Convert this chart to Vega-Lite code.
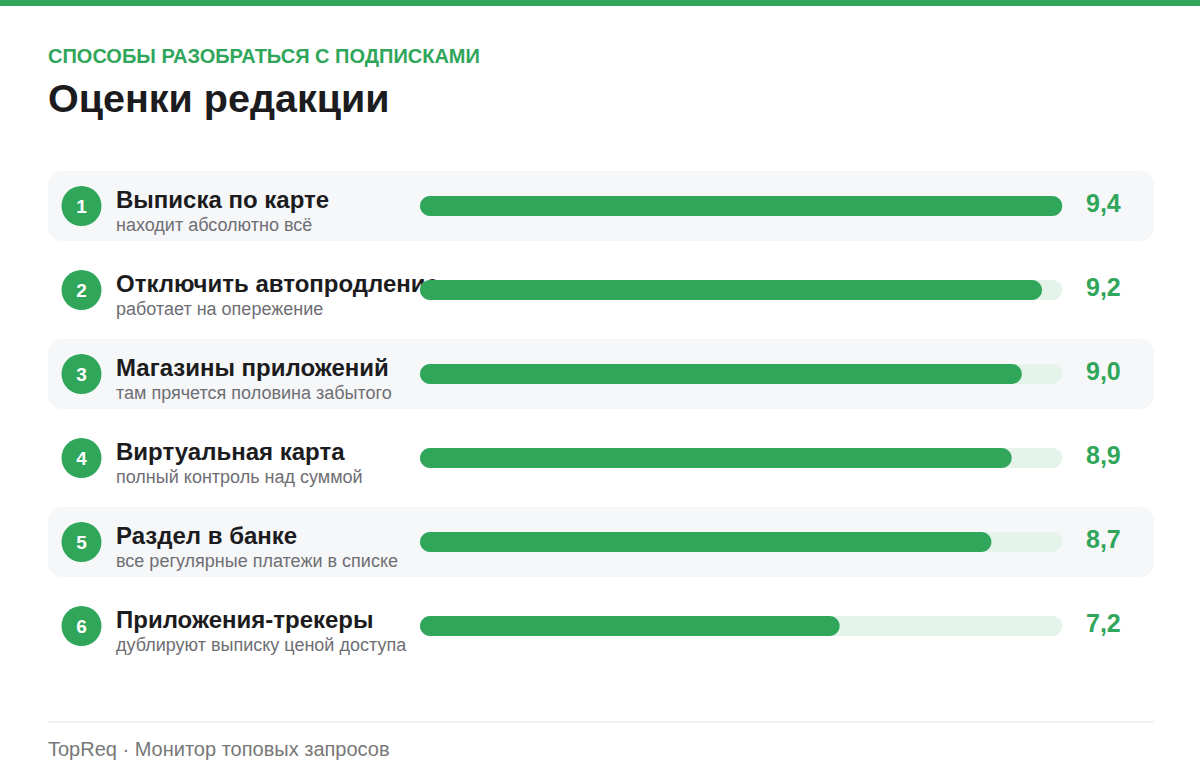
{
  "$schema": "https://vega.github.io/schema/vega-lite/v6.json",
  "width": 1200,
  "height": 784,
  "autosize": {"type": "none"},
  "padding": 0,
  "background": "#ffffff",
  "data": {
    "values": [
      {"rank": 1, "name": "Выписка по карте", "note": "находит абсолютно всё", "score": 9.4, "scoreText": "9,4", "shaded": true},
      {"rank": 2, "name": "Отключить автопродление", "note": "работает на опережение", "score": 9.2, "scoreText": "9,2", "shaded": false},
      {"rank": 3, "name": "Магазины приложений", "note": "там прячется половина забытого", "score": 9.0, "scoreText": "9,0", "shaded": true},
      {"rank": 4, "name": "Виртуальная карта", "note": "полный контроль над суммой", "score": 8.9, "scoreText": "8,9", "shaded": false},
      {"rank": 5, "name": "Раздел в банке", "note": "все регулярные платежи в списке", "score": 8.7, "scoreText": "8,7", "shaded": true},
      {"rank": 6, "name": "Приложения-трекеры", "note": "дублируют выписку ценой доступа", "score": 7.2, "scoreText": "7,2", "shaded": false}
    ]
  },
  "layer": [
    {
      "data": {"values": [{"part": "top stripe"}]},
      "mark": {"type": "rule", "color": "#2fa65a", "strokeWidth": 6},
      "encoding": {
        "x": {"datum": -1.09684, "type": "quantitative", "axis": null},
        "x2": {"datum": 10.76087},
        "y": {"datum": -1.41667, "type": "quantitative", "axis": null}
      }
    },
    {
      "data": {"values": [{"kicker": "СПОСОБЫ РАЗОБРАТЬСЯ С ПОДПИСКАМИ"}]},
      "mark": {"type": "text", "align": "left", "baseline": "alphabetic", "font": "Liberation Sans", "fontSize": 20, "fontWeight": "bold", "color": "#2fa65a"},
      "encoding": {
        "x": {"datum": -0.62253, "type": "quantitative", "axis": null},
        "y": {"datum": -0.69881, "type": "quantitative", "axis": null},
        "text": {"field": "kicker", "type": "nominal"}
      }
    },
    {
      "data": {"values": [{"headline": "Оценки редакции"}]},
      "mark": {"type": "text", "align": "left", "baseline": "alphabetic", "font": "Liberation Sans", "fontSize": 39.5, "fontWeight": "bold", "color": "#1c1c1e"},
      "encoding": {
        "x": {"datum": -0.62253, "type": "quantitative", "axis": null},
        "y": {"datum": -0.12262, "type": "quantitative", "axis": null},
        "text": {"field": "headline", "type": "nominal"}
      }
    },
    {
      "transform": [{"filter": "datum.shaded"}],
      "mark": {"type": "bar", "orient": "horizontal", "height": 70, "cornerRadius": 14, "color": "#f6f7f9"},
      "encoding": {
        "y": {"field": "rank", "type": "quantitative", "scale": {"domain": [-1.45238, 7.88095], "reverse": true, "nice": false, "zero": false, "padding": 0}, "axis": null},
        "x": {"datum": -0.62253, "type": "quantitative", "axis": null},
        "x2": {"datum": 10.30632}
      }
    },
    {
      "mark": {"type": "text", "align": "left", "baseline": "alphabetic", "dy": 2, "font": "Liberation Sans", "fontSize": 24, "fontWeight": "bold", "color": "#1c1c1e"},
      "encoding": {
        "y": {"field": "rank", "type": "quantitative", "scale": {"domain": [-1.45238, 7.88095], "reverse": true, "nice": false, "zero": false, "padding": 0}, "axis": null},
        "x": {"datum": 0.04941, "type": "quantitative", "axis": null},
        "text": {"field": "name", "type": "nominal"}
      }
    },
    {
      "mark": {"type": "text", "align": "left", "baseline": "alphabetic", "dy": 25, "font": "Liberation Sans", "fontSize": 18, "color": "#6e6e73"},
      "encoding": {
        "y": {"field": "rank", "type": "quantitative", "scale": {"domain": [-1.45238, 7.88095], "reverse": true, "nice": false, "zero": false, "padding": 0}, "axis": null},
        "x": {"datum": 0.04941, "type": "quantitative", "axis": null},
        "text": {"field": "note", "type": "nominal"}
      }
    },
    {
      "mark": {"type": "bar", "orient": "horizontal", "height": 20, "cornerRadius": 10, "color": "#e5f4ea"},
      "encoding": {
        "y": {"field": "rank", "type": "quantitative", "scale": {"domain": [-1.45238, 7.88095], "reverse": true, "nice": false, "zero": false, "padding": 0}, "axis": null},
        "x": {"datum": 3.05336, "type": "quantitative", "axis": null},
        "x2": {"datum": 9.4}
      }
    },
    {
      "mark": {"type": "bar", "orient": "horizontal", "height": 20, "cornerRadius": 10, "color": "#2fa65a"},
      "encoding": {
        "y": {"field": "rank", "type": "quantitative", "scale": {"domain": [-1.45238, 7.88095], "reverse": true, "nice": false, "zero": false, "padding": 0}, "axis": null},
        "x": {"field": "score", "type": "quantitative", "scale": {"domain": [-1.09684, 10.76087], "nice": false, "zero": false, "padding": 0}, "axis": null},
        "x2": {"datum": 3.05336}
      }
    },
    {
      "mark": {"type": "point", "shape": "circle", "filled": true, "size": 1600, "color": "#2fa65a", "opacity": 1},
      "encoding": {
        "y": {"field": "rank", "type": "quantitative", "scale": {"domain": [-1.45238, 7.88095], "reverse": true, "nice": false, "zero": false, "padding": 0}, "axis": null},
        "x": {"datum": -0.2915, "type": "quantitative", "axis": null}
      }
    },
    {
      "mark": {"type": "text", "align": "center", "baseline": "middle", "dy": 1, "font": "Liberation Sans", "fontSize": 19, "fontWeight": "bold", "color": "#ffffff"},
      "encoding": {
        "y": {"field": "rank", "type": "quantitative", "scale": {"domain": [-1.45238, 7.88095], "reverse": true, "nice": false, "zero": false, "padding": 0}, "axis": null},
        "x": {"datum": -0.2915, "type": "quantitative", "axis": null},
        "text": {"field": "rank", "type": "nominal"}
      }
    },
    {
      "mark": {"type": "text", "align": "left", "baseline": "alphabetic", "dy": 6, "font": "Liberation Sans", "fontSize": 25, "fontWeight": "bold", "color": "#2fa65a"},
      "encoding": {
        "y": {"field": "rank", "type": "quantitative", "scale": {"domain": [-1.45238, 7.88095], "reverse": true, "nice": false, "zero": false, "padding": 0}, "axis": null},
        "x": {"datum": 9.63439, "type": "quantitative", "axis": null},
        "text": {"field": "scoreText", "type": "nominal"}
      }
    },
    {
      "data": {"values": [{"part": "footer rule"}]},
      "mark": {"type": "rule", "color": "#e5e5e7", "strokeWidth": 1},
      "encoding": {
        "x": {"datum": -0.62253, "type": "quantitative", "axis": null},
        "x2": {"datum": 10.30632},
        "y": {"datum": 7.14286, "type": "quantitative", "axis": null}
      }
    },
    {
      "data": {"values": [{"source": "TopReq · Монитор топовых запросов"}]},
      "mark": {"type": "text", "align": "left", "baseline": "alphabetic", "font": "Liberation Sans", "fontSize": 20, "color": "#777777"},
      "encoding": {
        "x": {"datum": -0.62253, "type": "quantitative", "axis": null},
        "y": {"datum": 7.54167, "type": "quantitative", "axis": null},
        "text": {"field": "source", "type": "nominal"}
      }
    }
  ],
  "config": {
    "view": {"stroke": null},
    "font": "Liberation Sans"
  }
}
